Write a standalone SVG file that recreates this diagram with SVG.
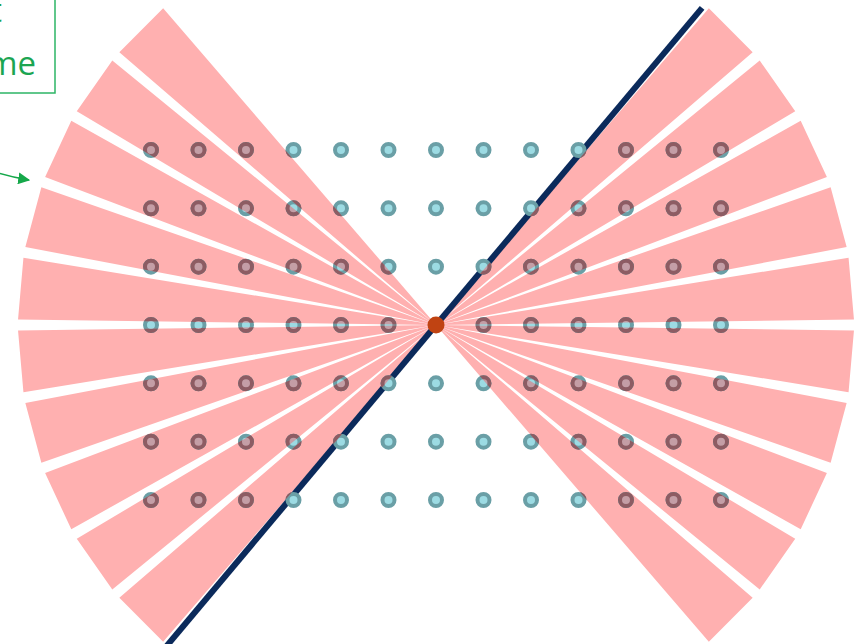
<svg xmlns="http://www.w3.org/2000/svg" xmlns:xlink="http://www.w3.org/1999/xlink" width="863" height="644" viewBox="0 0 863 644">
<style>
.wedge{fill:#ffb0b0}
.txt{font-family:"Open Sans","Liberation Sans",sans-serif;font-size:33px;fill:#1ca552}
.box{fill:none;stroke:#2cb565;stroke-width:1.5}
</style>
<defs>
<path id="fan" d="M436,325L708.85,8.34L752.66,52.15Z M436,325L759.70,60.53L795.23,111.28Z M436,325L800.70,120.76L826.89,176.91Z M436,325L830.63,187.19L846.66,247.03Z M436,325L848.56,257.81L853.96,319.53Z M436,325L853.96,330.47L848.56,392.19Z M436,325L846.66,402.97L830.63,462.81Z M436,325L826.89,473.09L800.70,529.24Z M436,325L795.23,538.72L759.70,589.47Z M436,325L752.66,597.85L708.85,641.66Z M436,325L163.15,8.34L119.34,52.15Z M436,325L112.30,60.53L76.77,111.28Z M436,325L71.30,120.76L45.11,176.91Z M436,325L41.37,187.19L25.34,247.03Z M436,325L23.44,257.81L18.04,319.53Z M436,325L18.04,330.47L23.44,392.19Z M436,325L25.34,402.97L41.37,462.81Z M436,325L45.11,473.09L71.30,529.24Z M436,325L76.77,538.72L112.30,589.47Z M436,325L119.34,597.85L163.15,641.66Z"/>
<clipPath id="fanClip"><use xlink:href="#fan"/></clipPath>
<marker id="arr" viewBox="0 0 10 10" refX="9" refY="5" markerWidth="12" markerHeight="12" markerUnits="userSpaceOnUse" orient="auto"><path d="M0,0L10,5L0,10Z" fill="#15a84a"/></marker>
<g id="dots" stroke-width="4">
<circle cx="151" cy="150" r="6"/><circle cx="198.5" cy="150" r="6"/><circle cx="246" cy="150" r="6"/><circle cx="293.5" cy="150" r="6"/><circle cx="341" cy="150" r="6"/><circle cx="388.5" cy="150" r="6"/><circle cx="436" cy="150" r="6"/><circle cx="483.5" cy="150" r="6"/><circle cx="531" cy="150" r="6"/><circle cx="578.5" cy="150" r="6"/><circle cx="626" cy="150" r="6"/><circle cx="673.5" cy="150" r="6"/><circle cx="721" cy="150" r="6"/>
<circle cx="151" cy="208.3" r="6"/><circle cx="198.5" cy="208.3" r="6"/><circle cx="246" cy="208.3" r="6"/><circle cx="293.5" cy="208.3" r="6"/><circle cx="341" cy="208.3" r="6"/><circle cx="388.5" cy="208.3" r="6"/><circle cx="436" cy="208.3" r="6"/><circle cx="483.5" cy="208.3" r="6"/><circle cx="531" cy="208.3" r="6"/><circle cx="578.5" cy="208.3" r="6"/><circle cx="626" cy="208.3" r="6"/><circle cx="673.5" cy="208.3" r="6"/><circle cx="721" cy="208.3" r="6"/>
<circle cx="151" cy="266.7" r="6"/><circle cx="198.5" cy="266.7" r="6"/><circle cx="246" cy="266.7" r="6"/><circle cx="293.5" cy="266.7" r="6"/><circle cx="341" cy="266.7" r="6"/><circle cx="388.5" cy="266.7" r="6"/><circle cx="436" cy="266.7" r="6"/><circle cx="483.5" cy="266.7" r="6"/><circle cx="531" cy="266.7" r="6"/><circle cx="578.5" cy="266.7" r="6"/><circle cx="626" cy="266.7" r="6"/><circle cx="673.5" cy="266.7" r="6"/><circle cx="721" cy="266.7" r="6"/>
<circle cx="151" cy="325" r="6"/><circle cx="198.5" cy="325" r="6"/><circle cx="246" cy="325" r="6"/><circle cx="293.5" cy="325" r="6"/><circle cx="341" cy="325" r="6"/><circle cx="388.5" cy="325" r="6"/><circle cx="483.5" cy="325" r="6"/><circle cx="531" cy="325" r="6"/><circle cx="578.5" cy="325" r="6"/><circle cx="626" cy="325" r="6"/><circle cx="673.5" cy="325" r="6"/><circle cx="721" cy="325" r="6"/>
<circle cx="151" cy="383.3" r="6"/><circle cx="198.5" cy="383.3" r="6"/><circle cx="246" cy="383.3" r="6"/><circle cx="293.5" cy="383.3" r="6"/><circle cx="341" cy="383.3" r="6"/><circle cx="388.5" cy="383.3" r="6"/><circle cx="436" cy="383.3" r="6"/><circle cx="483.5" cy="383.3" r="6"/><circle cx="531" cy="383.3" r="6"/><circle cx="578.5" cy="383.3" r="6"/><circle cx="626" cy="383.3" r="6"/><circle cx="673.5" cy="383.3" r="6"/><circle cx="721" cy="383.3" r="6"/>
<circle cx="151" cy="441.7" r="6"/><circle cx="198.5" cy="441.7" r="6"/><circle cx="246" cy="441.7" r="6"/><circle cx="293.5" cy="441.7" r="6"/><circle cx="341" cy="441.7" r="6"/><circle cx="388.5" cy="441.7" r="6"/><circle cx="436" cy="441.7" r="6"/><circle cx="483.5" cy="441.7" r="6"/><circle cx="531" cy="441.7" r="6"/><circle cx="578.5" cy="441.7" r="6"/><circle cx="626" cy="441.7" r="6"/><circle cx="673.5" cy="441.7" r="6"/><circle cx="721" cy="441.7" r="6"/>
<circle cx="151" cy="500" r="6"/><circle cx="198.5" cy="500" r="6"/><circle cx="246" cy="500" r="6"/><circle cx="293.5" cy="500" r="6"/><circle cx="341" cy="500" r="6"/><circle cx="388.5" cy="500" r="6"/><circle cx="436" cy="500" r="6"/><circle cx="483.5" cy="500" r="6"/><circle cx="531" cy="500" r="6"/><circle cx="578.5" cy="500" r="6"/><circle cx="626" cy="500" r="6"/><circle cx="673.5" cy="500" r="6"/><circle cx="721" cy="500" r="6"/>
</g>
</defs>
<rect width="863" height="644" fill="#ffffff"/>
<use xlink:href="#fan" class="wedge"/>
<line x1="702.1" y1="7.9" x2="159.6" y2="654.4" stroke="#0b2a5b" stroke-width="6"/>
<use xlink:href="#dots" fill="#9cdbe3" stroke="#6a9fa6"/>
<use xlink:href="#dots" fill="#c49ea6" stroke="#8d5c63" clip-path="url(#fanClip)"/>
<circle cx="436" cy="325" r="8.5" fill="#c04312"/>
<g id="note">
<rect class="box" x="-10" y="-10" width="65" height="103"/>
<text class="txt" x="2" y="22" text-anchor="end">t</text>
<text class="txt" x="36" y="75" text-anchor="end">me</text>
</g>
<g id="connectors">
<path d="M-5,172 Q10,177 29,180" fill="none" stroke="#15a84a" stroke-width="1.5" marker-end="url(#arr)"/>
</g>
</svg>
